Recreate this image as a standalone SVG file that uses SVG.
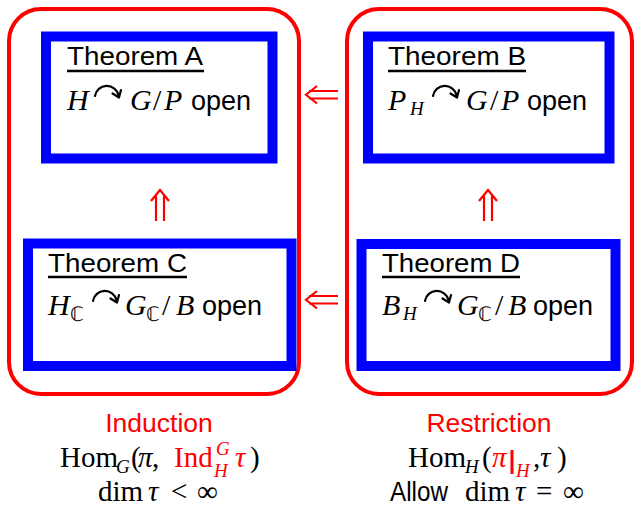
<svg xmlns="http://www.w3.org/2000/svg" width="635" height="506" viewBox="0 0 635 506">
<style>
.grp{fill:none;stroke:#ff0000;stroke-width:4}
.thm{fill:#fff;stroke:#0000ff;stroke-width:10}
.sans{font-family:"Liberation Sans",Arial,sans-serif;fill:#000}
.ttl{font-size:26px}
.math{font-family:"Liberation Serif","Times New Roman",serif;font-size:30px;fill:#000}
.it{font-style:italic}
.sub{font-size:19px}
.bb{font-family:"DejaVu Sans","Noto Sans",sans-serif;font-size:20px}
.ul{stroke:#000;stroke-width:2.6}
.imp{fill:none;stroke:#ff0000;stroke-width:2.2}
.curv{fill:none;stroke:#000;stroke-width:2.2;stroke-linejoin:round;stroke-linecap:round}
.bm{font-family:"Liberation Serif","Times New Roman",serif;font-size:29px;fill:#000}
.bs{font-size:19px}
.red,.bm.red,.sans.red{fill:#ff0000}
</style>
<defs>
<path id="act" class="curv" d="M1 -14A12 12 0 0 1 24.5 -15M18.5 -16.5L25 -12.5L27 -20"/>
</defs>
<g id="group-induction"><rect class="grp" x="9" y="9" width="290" height="385" rx="32"/></g>
<g id="group-restriction"><rect class="grp" x="347" y="9" width="285" height="385" rx="32"/></g>

<g id="theorem-a">
<rect class="thm" x="46" y="36.5" width="226.5" height="122"/>
<text class="sans ttl" x="67" y="65" textLength="136" lengthAdjust="spacingAndGlyphs">Theorem A</text>
<line class="ul" x1="67" y1="71" x2="204" y2="71"/>
<text class="math it" x="67" y="110">H</text>
<use href="#act" x="94" y="110"/>
<text class="math it" x="130" y="110">G</text>
<text class="math" x="153" y="110">/</text>
<text class="math it" x="164" y="110">P</text>
<text class="sans" x="191" y="110" font-size="27">open</text>
</g>

<g id="theorem-b">
<rect class="thm" x="368" y="36.5" width="241.5" height="122"/>
<text class="sans ttl" x="388" y="65" textLength="138" lengthAdjust="spacingAndGlyphs">Theorem B</text>
<line class="ul" x1="388" y1="71" x2="526" y2="71"/>
<text class="math it" x="388" y="110">P</text>
<text class="math it sub" x="410" y="115">H</text>
<use href="#act" x="432" y="110"/>
<text class="math it" x="466" y="110">G</text>
<text class="math" x="490" y="110">/</text>
<text class="math it" x="501" y="110">P</text>
<text class="sans" x="527" y="110" font-size="27">open</text>
</g>

<g id="theorem-c">
<rect class="thm" x="28" y="243.5" width="263.5" height="122.5"/>
<text class="sans ttl" x="48" y="272" textLength="139" lengthAdjust="spacingAndGlyphs">Theorem C</text>
<line class="ul" x1="48" y1="277" x2="187" y2="277"/>
<text class="math it" x="48" y="315">H</text>
<text class="bb" x="70" y="321">ℂ</text>
<use href="#act" x="92" y="315"/>
<text class="math it" x="125" y="315">G</text>
<text class="bb" x="146" y="321">ℂ</text>
<text class="math" x="162" y="315">/</text>
<text class="math it" x="176" y="315">B</text>
<text class="sans" x="202" y="315" font-size="27">open</text>
</g>

<g id="theorem-d">
<rect class="thm" x="361.5" y="244" width="254" height="122"/>
<text class="sans ttl" x="382" y="272" textLength="138" lengthAdjust="spacingAndGlyphs">Theorem D</text>
<line class="ul" x1="382" y1="277" x2="520" y2="277"/>
<text class="math it" x="382" y="315">B</text>
<text class="math it sub" x="403" y="320">H</text>
<use href="#act" x="424" y="315"/>
<text class="math it" x="457" y="315">G</text>
<text class="bb" x="478" y="321">ℂ</text>
<text class="math" x="495" y="315">/</text>
<text class="math it" x="508" y="315">B</text>
<text class="sans" x="533" y="315" font-size="27">open</text>
</g>

<g id="connectors">
<path class="imp" d="M309 91H338M309 98.5H338M317 86L306 94.75L317 103.5"/>
<path class="imp" d="M309 296H338M309 303.5H338M317 291L306 299.75L317 308.5"/>
<path class="imp" d="M156 195V221M164 195V221M151 201L160 190L169 201"/>
<path class="imp" d="M484 195V221M492 195V221M479 201L488 190L497 201"/>
</g>

<g id="label-induction">
<text class="sans red" x="159" y="432" font-size="26.5" text-anchor="middle">Induction</text>
<text class="bm" x="60" y="467">Hom</text>
<text class="bm it bs" x="116" y="473">G</text>
<text class="bm" x="131" y="467">(</text>
<text class="bm it" x="138" y="467">π</text>
<text class="bm" x="152" y="467">,</text>
<text class="bm red" x="174" y="467">Ind</text>
<text class="bm it bs red" x="216" y="455">G</text>
<text class="bm it bs red" x="214" y="477">H</text>
<text class="bm it red" x="235" y="467">τ</text>
<text class="bm" x="250" y="467">)</text>
<text class="bm" x="98" y="501" font-size="30">dim</text>
<text class="bm it" x="148" y="501" font-size="30">τ</text>
<text class="bm" x="171" y="501" font-size="30">&lt;</text>
<text class="bm" x="197" y="501" font-size="30">∞</text>
</g>

<g id="label-restriction">
<text class="sans red" x="489" y="432" font-size="26.5" text-anchor="middle">Restriction</text>
<text class="bm" x="408" y="467">Hom</text>
<text class="bm it bs" x="465" y="473">H</text>
<text class="bm" x="482" y="467">(</text>
<text class="bm it red" x="492" y="467">π</text>
<rect class="red" x="510.5" y="450" width="3" height="24"/>
<text class="bm it bs red" x="516" y="477">H</text>
<text class="bm" x="533" y="467">,</text>
<text class="bm it" x="540" y="467">τ</text>
<text class="bm" x="557" y="467">)</text>
<text class="sans" x="390" y="501" font-size="27" textLength="58" lengthAdjust="spacingAndGlyphs">Allow</text>
<text class="bm" x="465" y="501" font-size="30">dim</text>
<text class="bm it" x="515" y="501" font-size="30">τ</text>
<text class="bm" x="536" y="501" font-size="30">=</text>
<text class="bm" x="563" y="501" font-size="30">∞</text>
</g>
</svg>
